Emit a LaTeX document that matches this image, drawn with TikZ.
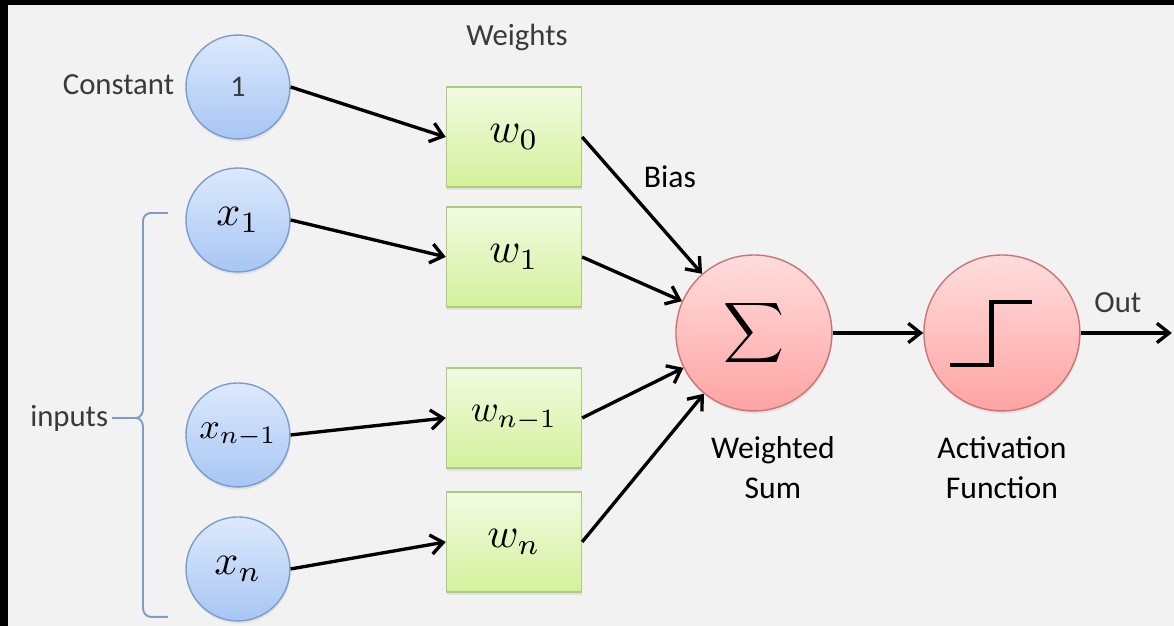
\documentclass[tikz,border=0pt]{standalone}
\usepackage{amsmath}
\usepackage{fontspec}
\setmainfont{Carlito}
\usetikzlibrary{arrows.meta,positioning,shadows}
\definecolor{bg}{HTML}{F2F2F2}
\definecolor{labelgrey}{HTML}{3A3A3A}
\definecolor{inptop}{HTML}{DDE9FC}
\definecolor{inpbot}{HTML}{A7C6F4}
\definecolor{inpline}{HTML}{7C9DCB}
\definecolor{wtop}{HTML}{F2FBE2}
\definecolor{wbot}{HTML}{D4F19C}
\definecolor{wline}{HTML}{A9CF7E}
\definecolor{ntop}{HTML}{FFDDDD}
\definecolor{nbot}{HTML}{FFA3A3}
\definecolor{nline}{HTML}{C97575}
\definecolor{bracecol}{HTML}{7C9DCB}
\newcommand{\symb}[2][2.4]{\scalebox{#1}{$#2$}}

\begin{document}
\begin{tikzpicture}[x=0.02cm,y=-0.02cm,
    >={Straight Barb[length=7pt,width=11pt]},
    link/.style={->,line width=1.9pt},
    inp/.style={circle,draw=inpline,line width=0.8pt,top color=inptop,bottom color=inpbot,
      minimum size=2.08cm,inner sep=0pt,drop shadow={opacity=0.15,shadow xshift=0.4pt,shadow yshift=-1.5pt}},
    wbox/.style={rectangle,draw=wline,line width=0.8pt,top color=wtop,bottom color=wbot,
      minimum width=2.7cm,minimum height=2cm,inner sep=0pt,drop shadow={opacity=0.15,shadow xshift=0.4pt,shadow yshift=-1.5pt}},
    neuron/.style={circle,draw=nline,line width=0.8pt,top color=ntop,bottom color=nbot,
      minimum size=3.12cm,inner sep=0pt,drop shadow={opacity=0.15,shadow xshift=0.4pt,shadow yshift=-1.5pt}},
    lbl/.style={font=\fontsize{17.5}{21}\selectfont,text=labelgrey,inner sep=2pt},
    biglbl/.style={font=\fontsize{18}{22.7}\selectfont,align=center,inner sep=0pt}]
        % frame
        \fill[black] (0,0) rectangle (1174,626);
        \fill[bg] (8,5) rectangle (1174,626);

        % inputs
        \node[inp] (one) at (238,87) {\fontsize{17}{20}\selectfont\color{labelgrey}1};
        \node[inp] (x1) at (238,220) {\symb{x_1}};
        \node[inp] (xm) at (238,435) {\symb[2.05]{x_{n-1}}};
        \node[inp] (xn) at (238,569) {\symb{x_n}};

        % weights
        \node[wbox] (w0) at (514,137) {\symb{w_0}};
        \node[wbox] (w1) at (514,257) {\symb{w_1}};
        \node[wbox] (wm) at (514,418) {\symb[2.15]{w_{n-1}}};
        \node[wbox] (wn) at (514,542) {\symb{w_n}};

        % neuron
        \node[neuron] (sum) at (754,333) {\scalebox{2.4}{$\displaystyle\sum$}};
        \node[neuron] (act) at (1002,333) {};
        \draw[line width=2.8pt] (950,365) -- (992,365) -- (992,302) -- (1032,302);
        \coordinate (outend) at (1172,333);

        % labels
        \node[lbl,anchor=east] (const) at (178,85) {Constant};
        \node[lbl] (wlbl) at (517,37) {Weights};
        \node[biglbl] (bias) at (670,177) {Bias};
        \node[lbl,anchor=east] (inputs) at (112,418) {inputs};
        \node[biglbl] (wsum) at (773,468) {Weighted\\Sum};
        \node[biglbl] (actf) at (1002,468) {Activation\\Function};
        \node[lbl] (out) at (1118,303) {Out};

        % brace
        \draw[bracecol,line width=1.1pt] (168,213) -- (151,213) to[out=180,in=90] (143,221)
          -- (143,409) to[out=-90,in=0] (136,418) to[out=0,in=90] (143,427)
          -- (143,608) to[out=-90,in=180] (151,617) -- (168,617);
        \coordinate (brtip) at (136,418);
        \draw[bracecol,line width=1.1pt] (inputs) -- (brtip);

        % connections
        \path[link] (one.east) edge (w0.west);
        \path[link] (x1.east) edge (w1.west);
        \path[link] (xm.east) edge (wm.west);
        \path[link] (xn.east) edge (wn.west);
        \path[link] (w0.east) edge (sum);
        \path[link] (w1.east) edge (sum);
        \path[link] (wm.east) edge (sum);
        \path[link] (wn.east) edge (sum);
        \path[link] (sum) edge (act);
        \path[link] (act) edge (outend);
    \end{tikzpicture}
\end{document}
